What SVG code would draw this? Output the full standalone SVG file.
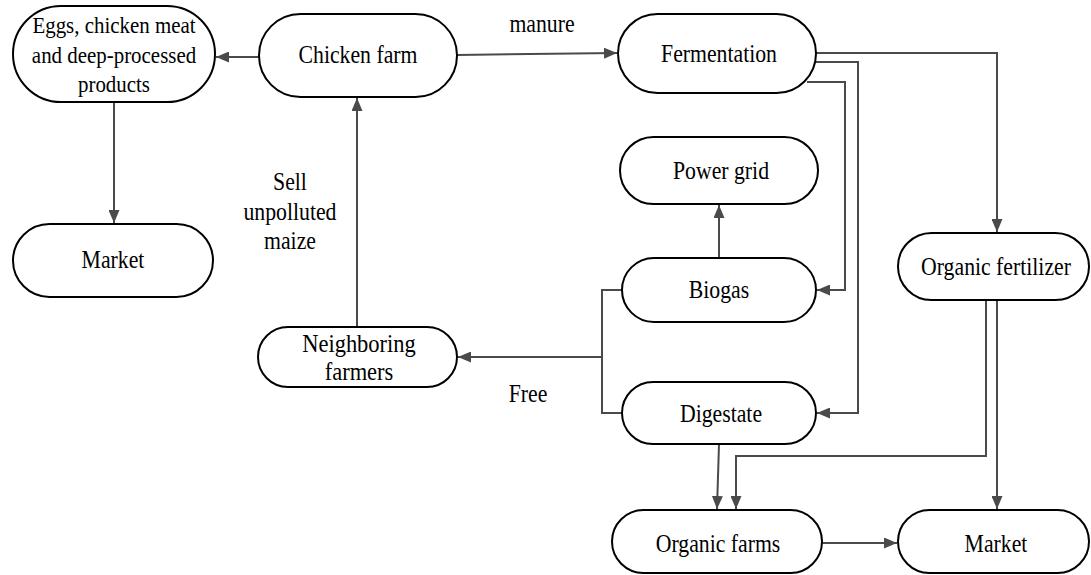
<svg xmlns="http://www.w3.org/2000/svg" width="1091" height="575" viewBox="0 0 1091 575">
<style>
.node rect{fill:#fff;stroke:#000;stroke-width:2}
text{font-family:"Liberation Serif",serif;font-size:25px;fill:#000;text-anchor:middle}
.conn path{fill:none;stroke:#4a4a4a;stroke-width:2}
#eggs text{font-size:23px}
</style>
<defs>
<marker id="arr" markerUnits="userSpaceOnUse" markerWidth="13" markerHeight="11" refX="13" refY="5.5" orient="auto">
<path d="M0,0 L13,5.5 L0,11 z" fill="#4a4a4a"/>
</marker>
</defs>
<rect width="1091" height="575" fill="#fff"/>
<g id="connectors" class="conn">
<path d="M259,57 H216" marker-end="url(#arr)"/>
<path d="M114,102 V223" marker-end="url(#arr)"/>
<path d="M457,55 L617,53" marker-end="url(#arr)"/>
<path d="M357,327 V98" marker-end="url(#arr)"/>
<path d="M816,53 H997 V232" marker-end="url(#arr)"/>
<path d="M814,62 H858 V413 H817" marker-end="url(#arr)"/>
<path d="M807,82 H845 V290 H817" marker-end="url(#arr)"/>
<path d="M719,258 V205" marker-end="url(#arr)"/>
<path d="M622,290 H602 V413 H622"/>
<path d="M602,357 H458" marker-end="url(#arr)"/>
<path d="M719,444 L717,509" marker-end="url(#arr)"/>
<path d="M986,300 V456 H736 V509" marker-end="url(#arr)"/>
<path d="M997,300 V509" marker-end="url(#arr)"/>
<path d="M822,543 H897" marker-end="url(#arr)"/>
</g>
<g id="labels">
<text transform="translate(542 32) scale(0.87 1)">manure</text>
<text transform="translate(290 0) scale(0.87 1)"><tspan x="0" y="190">Sell</tspan><tspan x="0" y="220">unpolluted</tspan><tspan x="0" y="249">maize</tspan></text>
<text transform="translate(528 402) scale(0.87 1)">Free</text>
</g>
<g id="eggs" class="node">
<rect x="13" y="6" width="202" height="96" rx="48"/>
<text transform="translate(114 0) scale(0.91 1)"><tspan x="0" y="33">Eggs, chicken meat</tspan><tspan x="0" y="63">and deep-processed</tspan><tspan x="0" y="92">products</tspan></text>
</g>
<g id="chicken-farm" class="node">
<rect x="259" y="14" width="198" height="83" rx="41.5"/>
<text transform="translate(358 63) scale(0.87 1)">Chicken farm</text>
</g>
<g id="fermentation" class="node">
<rect x="618" y="14" width="198" height="79" rx="39.5"/>
<text transform="translate(719 62) scale(0.87 1)">Fermentation</text>
</g>
<g id="market-left" class="node">
<rect x="13" y="224" width="200" height="73" rx="36.5"/>
<text transform="translate(113 268) scale(0.87 1)">Market</text>
</g>
<g id="power-grid" class="node">
<rect x="620" y="137" width="198" height="67" rx="33.5"/>
<text transform="translate(721 179) scale(0.87 1)">Power grid</text>
</g>
<g id="biogas" class="node">
<rect x="622" y="258" width="194" height="64" rx="32"/>
<text transform="translate(719 298) scale(0.87 1)">Biogas</text>
</g>
<g id="organic-fertilizer" class="node">
<rect x="898" y="233" width="191" height="67" rx="33.5"/>
<text transform="translate(996 275) scale(0.87 1)">Organic fertilizer</text>
</g>
<g id="neighboring-farmers" class="node">
<rect x="258" y="327" width="199" height="60" rx="30"/>
<text transform="translate(359 0) scale(0.9 1)"><tspan x="0" y="352">Neighboring</tspan><tspan x="0" y="380">farmers</tspan></text>
</g>
<g id="digestate" class="node">
<rect x="622" y="382" width="194" height="62" rx="31"/>
<text transform="translate(721 422) scale(0.87 1)">Digestate</text>
</g>
<g id="organic-farms" class="node">
<rect x="612" y="510" width="210" height="63" rx="31.5"/>
<text transform="translate(718 552) scale(0.87 1)">Organic farms</text>
</g>
<g id="market-right" class="node">
<rect x="898" y="510" width="191" height="63" rx="31.5"/>
<text transform="translate(996 552) scale(0.87 1)">Market</text>
</g>
</svg>
